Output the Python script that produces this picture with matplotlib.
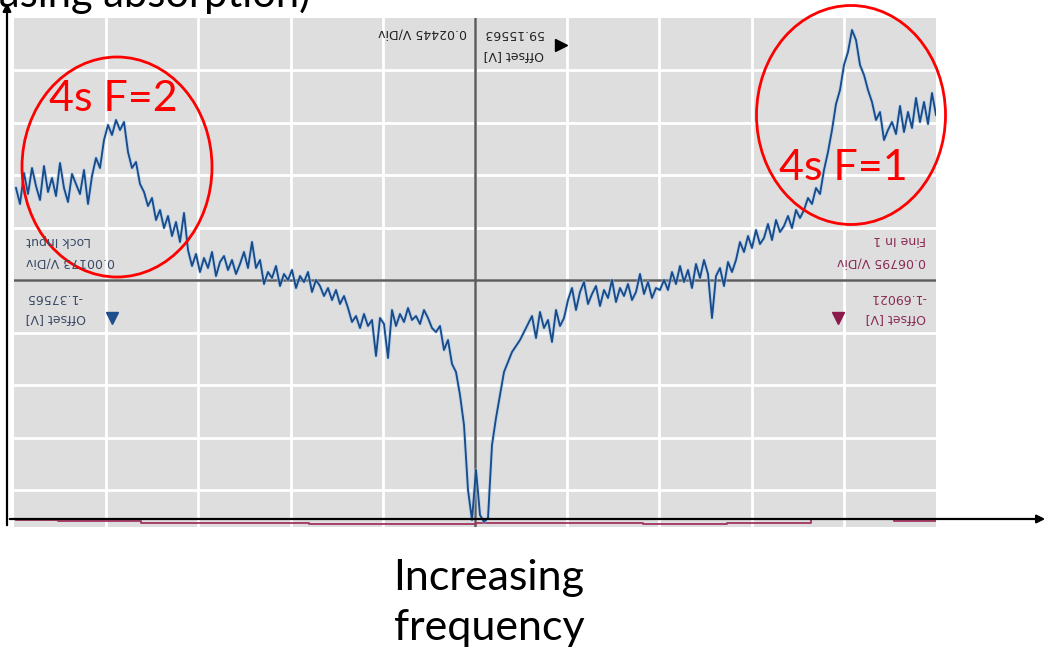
import numpy as np
import matplotlib

matplotlib.use("Agg")

import matplotlib.pyplot as plt
from matplotlib.patches import Ellipse

# lock-in trace (units: screen px above centre line, 52.5 per division)
lock_trace = [
    92, 76, 107, 86, 112, 94, 80, 114, 88, 102, 84, 117, 92, 78, 106, 96, 86, 110, 76,
    104, 122, 112,
    140, 155, 145, 160, 150, 158,
    128, 112, 118, 96, 88, 74,
    82, 60, 70, 52, 64, 44, 58, 38,
    67,
    30, 14, 26, 8, 22, 12, 28, 4, 18, 24, 10, 20, 6, 16, 28, 12,
    38, 12, 20, -4, 8, 2, 14, -6, 6, 0, 10, -8, 4, -2, 8, -12, 0, -6, -16, -8, -20, -10, -24, -16, -28,
    -42, -36, -48, -34, -46, -40, -76, -38, -44, -78, -30, -46, -34, -42, -28, -40, -36, -44, -30, -38, -48,
    -52, -46, -70, -60, -84, -92,
    -115, -145,
    -210, -240,
    -190,
    -235, -242, -238,
    -165, -138, -115, -92,
    -82, -72, -66, -60, -52,
    -44, -36, -58, -32, -48, -40, -62, -30, -46, -38,
    -20, -8, -30, -12, -2, -24, -14, -6, -26, -10, -18, 0, -22, -8, -16, -4, -20, -12, 6, -14, -2, -18, -8, -10,
    0, -10, 8, -4, 14, -2, 10, -8, 16, 2, 20, 6, -38, 4, 12, -6, 18, 8,
    20, 38, 28, 44, 32, 50, 36, 42, 56, 40, 60, 48, 54, 64, 52, 70, 62,
    70, 82, 76, 92, 86, 110,
    128, 150, 176,
    190, 215, 228, 250,
    240, 215, 205, 190, 178,
    160, 168, 140, 150,
    158, 146, 174, 148, 168, 152, 182, 158, 178, 156, 187, 165,
]

# second channel (Fine In 1), flat near the bottom of the screen
fine_trace = [-240, -241, -243, -243, -244, -244, -243, -243, -244, -243, -239, -241]

top_labels = ["0.02445 V/Div", "59.15563", "Offset [V]"]
left_labels = ["Lock Input", "0.00173 V/Div", "-1.37565", "Offset [V]"]
right_labels = ["Fine In 1", "0.06795 V/Div", "-1.69021", "Offset [V]"]

W, H = 1048, 654
fig = plt.figure(figsize=(W / 100, H / 100), dpi=100)

# scope screen
sl, sr, st, sb = 14, 936, 17.5, 527
scope = fig.add_axes([sl / W, 1 - sb / H, (sr - sl) / W, (sb - st) / H])
scope.set_facecolor("#dedede")
n = len(lock_trace)
scope.set_xlim(-0.5, n - 1)
scope.set_ylim(-247, 262.5)
for s in scope.spines.values():
    s.set_visible(False)
scope.set_xticks([])
scope.set_yticks([])

xdiv = np.linspace(-0.5, n - 1, 11)
for xv in xdiv[1:-1]:
    scope.axvline(xv, color="white", lw=2, zorder=1)
for k in range(-4, 5):
    scope.axhline(52.5 * k, color="white", lw=2, zorder=1)
scope.axhline(0, color="#5c5c5c", lw=1.8, zorder=2)
scope.axvline(xdiv[5], color="#5c5c5c", lw=1.8, zorder=2)

fine_x = np.linspace(0, n - 1, len(fine_trace))
scope.plot(fine_x, fine_trace, color="#a3345f", lw=1.3, drawstyle="steps-mid", zorder=3)
scope.plot(np.arange(n), lock_trace, color="#a9cbe8", lw=2.8, alpha=0.5, zorder=3)
scope.plot(np.arange(n), lock_trace, color="#174b8c", lw=1.35, zorder=4)

# overlay in pixel coordinates
ax = fig.add_axes([0, 0, 1, 1])
ax.set_xlim(0, W)
ax.set_ylim(H, 0)
ax.axis("off")
ax.patch.set_alpha(0)

small = dict(fontsize=9, rotation=180, va="center")
ax.text(467, 33, top_labels[0], color="#222222", ha="right", **small)
ax.text(484, 33, top_labels[1], color="#222222", ha="left", **small)
ax.text(484, 55, top_labels[2], color="#222222", ha="left", **small)
ax.plot(561, 45, marker=">", ms=9, color="black", ls="none")

rows = [240, 262, 297, 318]
for y, t in zip(rows, left_labels):
    ax.text(26, y, t, color="#3b4a66", ha="left", **small)
for y, t in zip(rows, right_labels):
    ax.text(926, y, t, color="#8a2a55", ha="right", **small)
ax.plot(112, 318, marker="v", ms=9, color="#1f4e8c", ls="none")
ax.plot(838, 318, marker="v", ms=9, color="#8b1a4a", ls="none")

# hand-drawn annotations
ax.add_patch(Ellipse((117, 167), 190, 220, fill=False, ec="#ff0000", lw=2))
ax.add_patch(Ellipse((851, 115), 189, 219, fill=False, ec="#ff0000", lw=2))
big = dict(family="Lato", fontsize=31)
ax.text(113, 99, "4s F=2", color="#ff0000", ha="center", va="center", **big)
ax.text(843, 168, "4s F=1", color="#ff0000", ha="center", va="center", **big)

ax.text(489, 590, "Increasing", color="black", ha="center", va="baseline", **big)
ax.text(489, 640, "frequency", color="black", ha="center", va="baseline", **big)
# heading partly outside the top edge, as in the screenshot
ax.text(310, 7, "(Increasing absorption)", color="black", ha="right", va="baseline",
        family="Lato", fontsize=30)

# axes arrows
ax.annotate("", xy=(7, 0), xytext=(7, 528),
            arrowprops=dict(arrowstyle="-|>", color="black", lw=1.6, mutation_scale=12))
ax.annotate("", xy=(1048, 519), xytext=(7, 519),
            arrowprops=dict(arrowstyle="-|>", color="black", lw=1.6, mutation_scale=12))

fig.savefig("out.png", dpi=100)
plt.close(fig)
